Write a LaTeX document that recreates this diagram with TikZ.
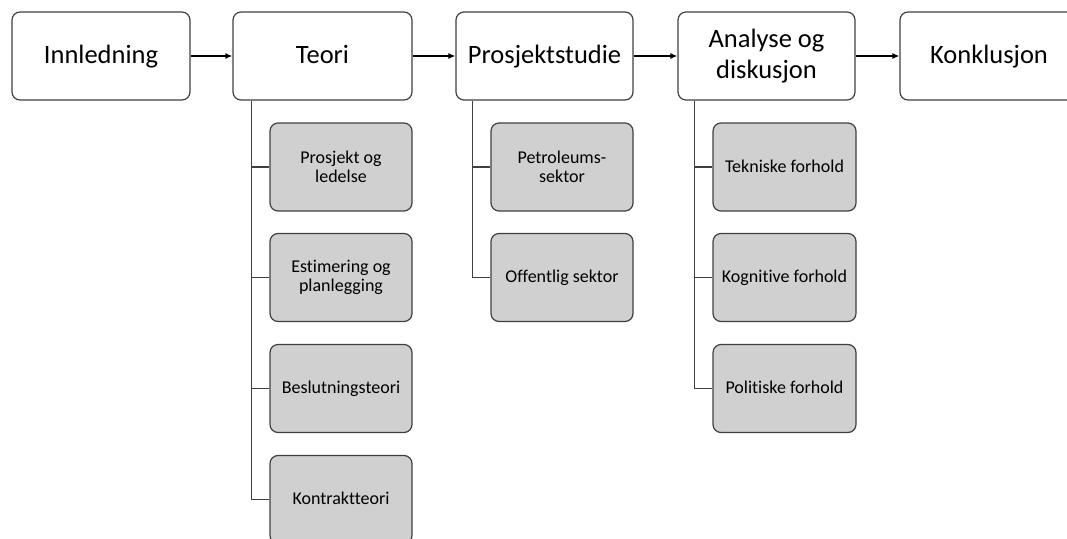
\documentclass[tikz,border=0pt]{standalone}
\usepackage{fontspec}
\setmainfont{Carlito}[Ligatures={NoCommon}]
\usetikzlibrary{arrows.meta}
\definecolor{bordergray}{HTML}{404040}
\definecolor{subfill}{HTML}{D0D0D0}
\tikzset{
  mainbox/.style={draw=bordergray, line width=1.2pt, rounded corners=8pt, fill=white,
    minimum height=88pt, inner sep=2pt, align=center,
    font=\fontsize{26.5}{31}\selectfont},
  subbox/.style={draw=bordergray, line width=1.2pt, rounded corners=8pt, fill=subfill,
    minimum width=142pt, minimum height=88pt, inner sep=2pt, align=center,
    font=\fontsize{18}{19}\selectfont},
  mainline/.style={text height=20pt, text depth=6pt},
  subline/.style={text height=14pt, text depth=4pt},
  flow/.style={-{Latex[length=7pt,width=6pt]}, line width=1.5pt, black},
  tree/.style={draw=bordergray, line width=1.2pt}
}
\begin{document}
\begin{tikzpicture}[x=1pt,y=-1pt]
\useasboundingbox (0,0) rectangle (1067,538);
\begin{scope}
\clip (0,0) rectangle (1067,538);
% main row
\node[mainbox, mainline, minimum width=178pt] (inn) at (101,56) {Innledning};
\node[mainbox, mainline, minimum width=179pt] (teo) at (322.5,56) {Teori};
\node[mainbox, mainline, minimum width=177pt] (pro) at (544.5,56) {Prosjektstudie};
\node[mainbox, minimum width=177pt] (ana) at (766.5,56) {Analyse og\\diskusjon};
\node[mainbox, mainline, minimum width=178pt] (kon) at (989,56) {Konklusjon};
\draw[flow] (inn) -- (teo);
\draw[flow] (teo) -- (pro);
\draw[flow] (pro) -- (ana);
\draw[flow] (ana) -- (kon);
% Teori subs
\node[subbox] (t1) at (341,167) {Prosjekt og\\ledelse};
\node[subbox] (t2) at (341,277.5) {Estimering og\\planlegging};
\node[subbox, subline] (t3) at (341,388.5) {Beslutningsteori};
\node[subbox, subline] (t4) at (341,499.5) {Kontraktteori};
% Prosjektstudie subs
\node[subbox] (p1) at (562,167) {Petroleums-\\sektor};
\node[subbox, subline] (p2) at (562,277.5) {Offentlig sektor};
% Analyse subs
\node[subbox, subline, minimum width=143pt] (a1) at (784.5,167) {Tekniske forhold};
\node[subbox, subline, minimum width=143pt] (a2) at (784.5,277.5) {Kognitive forhold};
\node[subbox, subline, minimum width=143pt] (a3) at (784.5,388.5) {Politiske forhold};
% tree connectors
\coordinate (tb) at ([xshift=19pt]teo.south west);
\coordinate (pb) at ([xshift=17pt]pro.south west);
\coordinate (ab) at ([xshift=17pt]ana.south west);
\draw[tree] (tb) |- (t4.west);
\draw[tree] (tb) |- (t1.west);
\draw[tree] (tb) |- (t2.west);
\draw[tree] (tb) |- (t3.west);
\draw[tree] (pb) |- (p2.west);
\draw[tree] (pb) |- (p1.west);
\draw[tree] (ab) |- (a3.west);
\draw[tree] (ab) |- (a1.west);
\draw[tree] (ab) |- (a2.west);
\end{scope}
\end{tikzpicture}
\end{document}
